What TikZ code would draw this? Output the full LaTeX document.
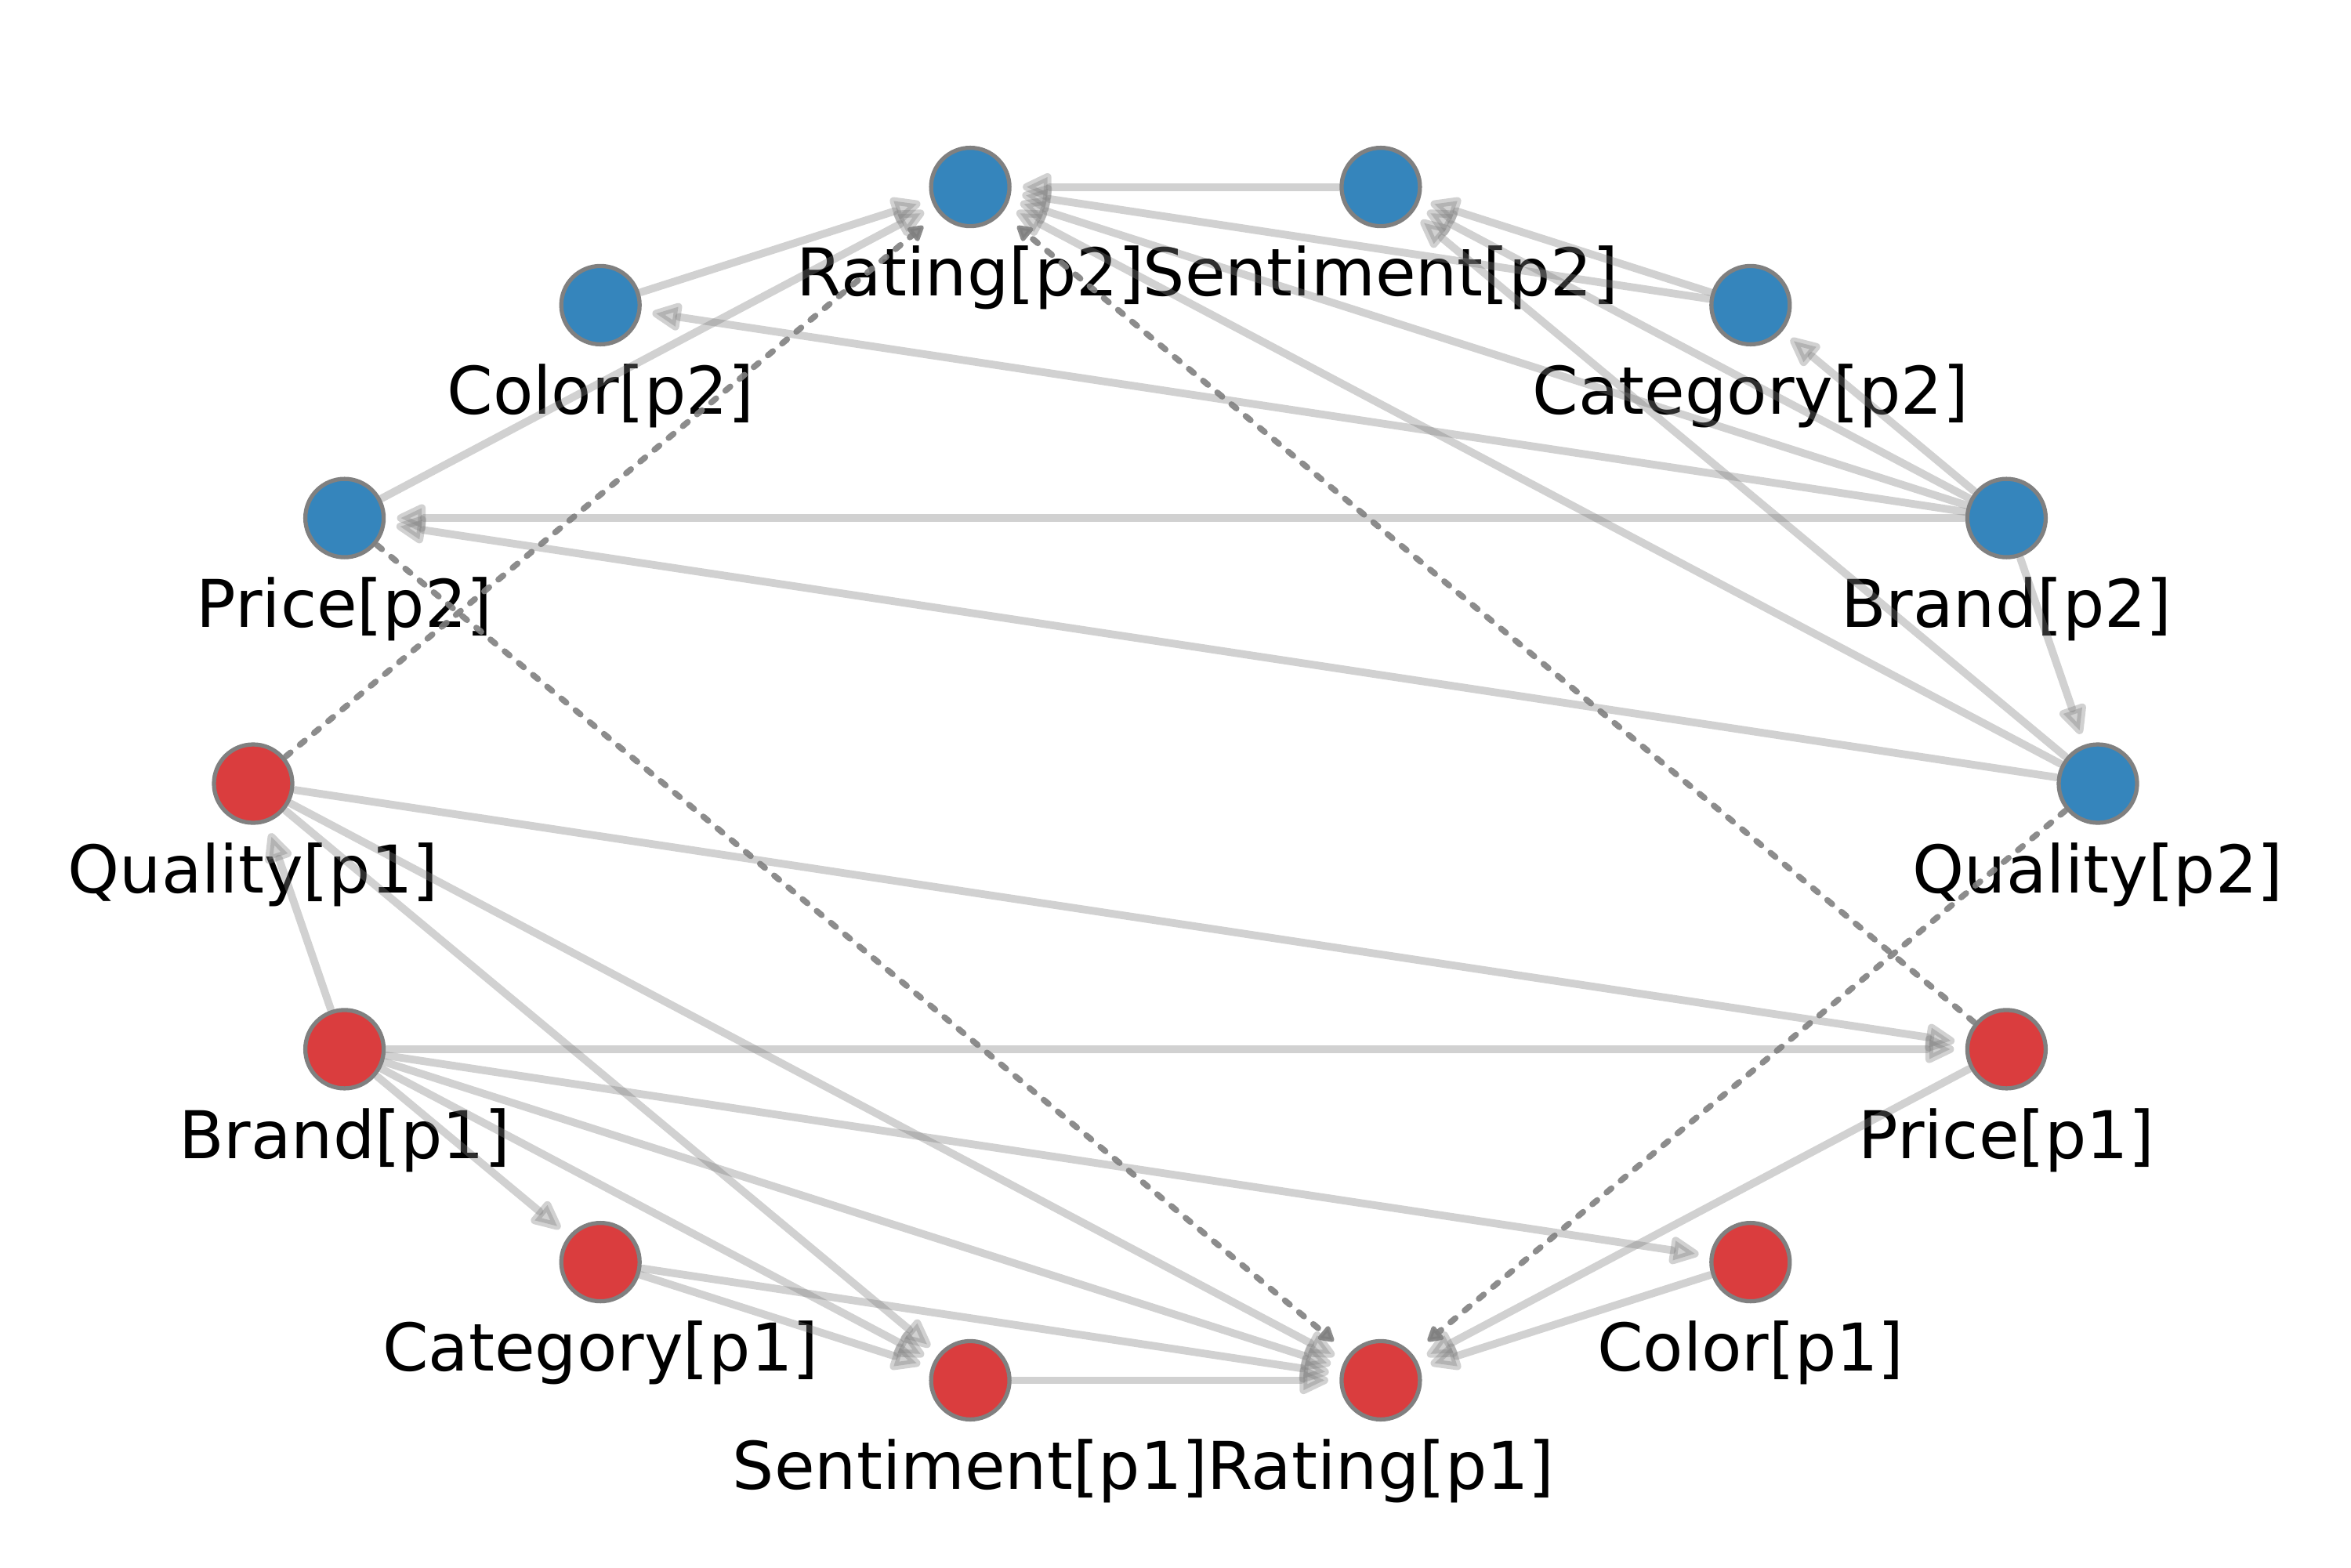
\documentclass[tikz,border=0pt]{standalone}
\usepackage{fontspec}
\setmainfont{DejaVu Sans}
\usetikzlibrary{arrows.meta}
\definecolor{pred}{RGB}{218,61,62}
\definecolor{pblue}{RGB}{53,133,188}
\definecolor{ndborder}{RGB}{128,128,128}
\definecolor{edgegray}{RGB}{128,128,128}
\newcommand{\lblfont}{\fontsize{23.9}{28}\selectfont}
\tikzset{
  nd/.style={circle, minimum size=1.0cm, inner sep=0pt, outer sep=0pt, draw=ndborder, line width=1.5pt},
  ndr/.style={nd, fill=pred},
  ndb/.style={nd, fill=pblue},
  lbl/.style={font=\lblfont, inner sep=0pt, text=black},
  edg/.style={draw=edgegray, opacity=0.36, line width=2.8pt, line cap=round,
    shorten <=0.04cm, shorten >=0.17cm,
    -{Triangle[length=0.44cm, width=0.38cm, round]}},
  dedg/.style={draw=edgegray, opacity=0.9, line width=2.2pt, line cap=round,
    dash pattern=on 2.3pt off 4.4pt, shorten <=0.04cm, shorten >=0.28cm,
    -{Triangle[length=0.22cm, width=0.24cm, round]}}
}
\begin{document}
\begin{tikzpicture}
\useasboundingbox (0,0) rectangle (30,-20);
\fill[white] (0,0) rectangle (30,-20);

% p1 nodes (red)
\node[ndr] (QualityA)   at (3.23,-10) {};
\node[ndr] (BrandA)     at (4.396,-13.389) {};
\node[ndr] (CategoryA)  at (7.662,-16.106) {};
\node[ndr] (SentimentA) at (12.381,-17.614) {};
\node[ndr] (RatingA)    at (17.619,-17.614) {};
\node[ndr] (ColorA)     at (22.338,-16.106) {};
\node[ndr] (PriceA)     at (25.604,-13.389) {};
% p2 nodes (blue)
\node[ndb] (QualityB)   at (26.77,-10) {};
\node[ndb] (BrandB)     at (25.604,-6.611) {};
\node[ndb] (CategoryB)  at (22.338,-3.894) {};
\node[ndb] (SentimentB) at (17.619,-2.386) {};
\node[ndb] (RatingB)    at (12.381,-2.386) {};
\node[ndb] (ColorB)     at (7.662,-3.894) {};
\node[ndb] (PriceB)     at (4.396,-6.611) {};

% labels
\node[lbl] (QualityAl)   at ([yshift=-1.16cm]QualityA.center) {Quality[p1]};
\node[lbl] (BrandAl)     at ([yshift=-1.16cm]BrandA.center) {Brand[p1]};
\node[lbl] (CategoryAl)  at ([yshift=-1.16cm]CategoryA.center) {Category[p1]};
\node[lbl] (SentimentAl) at ([yshift=-1.16cm]SentimentA.center) {Sentiment[p1]};
\node[lbl] (RatingAl)    at ([yshift=-1.16cm]RatingA.center) {Rating[p1]};
\node[lbl] (ColorAl)     at ([yshift=-1.16cm]ColorA.center) {Color[p1]};
\node[lbl] (PriceAl)     at ([yshift=-1.16cm]PriceA.center) {Price[p1]};
\node[lbl] (QualityBl)   at ([yshift=-1.16cm]QualityB.center) {Quality[p2]};
\node[lbl] (BrandBl)     at ([yshift=-1.16cm]BrandB.center) {Brand[p2]};
\node[lbl] (CategoryBl)  at ([yshift=-1.16cm]CategoryB.center) {Category[p2]};
\node[lbl] (SentimentBl) at ([yshift=-1.16cm]SentimentB.center) {Sentiment[p2]};
\node[lbl] (RatingBl)    at ([yshift=-1.16cm]RatingB.center) {Rating[p2]};
\node[lbl] (ColorBl)     at ([yshift=-1.16cm]ColorB.center) {Color[p2]};
\node[lbl] (PriceBl)     at ([yshift=-1.16cm]PriceB.center) {Price[p2]};

% solid edges p1
\draw[edg] (BrandA) -- (QualityA);
\draw[edg] (BrandA) -- (PriceA);
\draw[edg] (BrandA) -- (ColorA);
\draw[edg] (BrandA) -- (RatingA);
\draw[edg] (BrandA) -- (SentimentA);
\draw[edg] (BrandA) -- (CategoryA);
\draw[edg] (QualityA) -- (PriceA);
\draw[edg] (QualityA) -- (RatingA);
\draw[edg] (QualityA) -- (SentimentA);
\draw[edg] (CategoryA) -- (SentimentA);
\draw[edg] (CategoryA) -- (RatingA);
\draw[edg] (SentimentA) -- (RatingA);
\draw[edg] (PriceA) -- (RatingA);
\draw[edg] (ColorA) -- (RatingA);
% solid edges p2
\draw[edg] (BrandB) -- (QualityB);
\draw[edg] (BrandB) -- (PriceB);
\draw[edg] (BrandB) -- (ColorB);
\draw[edg] (BrandB) -- (RatingB);
\draw[edg] (BrandB) -- (SentimentB);
\draw[edg] (BrandB) -- (CategoryB);
\draw[edg] (QualityB) -- (PriceB);
\draw[edg] (QualityB) -- (RatingB);
\draw[edg] (QualityB) -- (SentimentB);
\draw[edg] (CategoryB) -- (SentimentB);
\draw[edg] (CategoryB) -- (RatingB);
\draw[edg] (SentimentB) -- (RatingB);
\draw[edg] (PriceB) -- (RatingB);
\draw[edg] (ColorB) -- (RatingB);
% dashed cross edges
\draw[dedg] (QualityA) -- (RatingB);
\draw[dedg] (PriceA) -- (RatingB);
\draw[dedg] (QualityB) -- (RatingA);
\draw[dedg] (PriceB) -- (RatingA);
\end{tikzpicture}
\end{document}
